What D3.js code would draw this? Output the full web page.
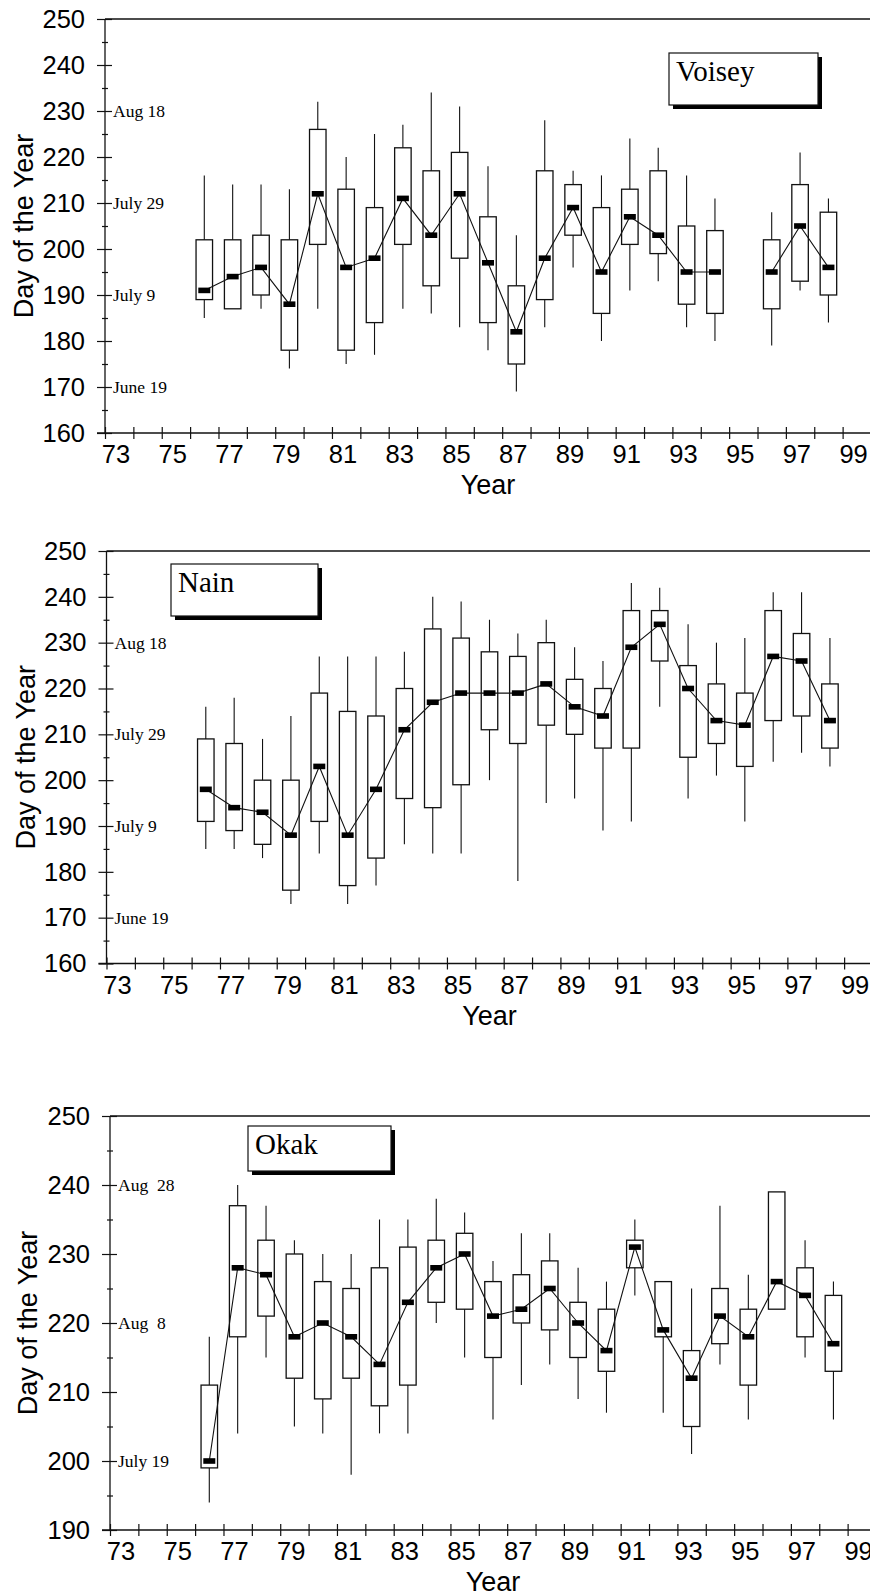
<!DOCTYPE html>
<html><head><meta charset="utf-8">
<script src="https://cdn.jsdelivr.net/npm/d3@7"></script>
<style>
body{margin:0;background:#fff}
svg{display:block}
.sans{font-family:"Liberation Sans",Arial,sans-serif}
.serif{font-family:"Liberation Serif","Times New Roman",serif}
</style>
</head><body>
<script>
// ---------------- DATA ----------------
const years = [76,77,78,79,80,81,82,83,84,85,86,87,88,89,90,91,92,93,94,95,96,97,98];
const yearTicks = d3.range(73, 100);

const voiseyMax = [216,214,214,213,232,220,225,227,234,231,218,203,228,217,216,224,222,216,211,null,208,221,211];
const voiseyQ3  = [202,202,203,202,226,213,209,222,217,221,207,192,217,214,209,213,217,205,204,null,202,214,208];
const voiseyMed = [191,194,196,188,212,196,198,211,203,212,197,182,198,209,195,207,203,195,195,null,195,205,196];
const voiseyQ1  = [189,187,190,178,201,178,184,201,192,198,184,175,189,203,186,201,199,188,186,null,187,193,190];
const voiseyMin = [185,187,187,174,187,175,177,187,186,183,178,169,183,196,180,191,193,183,180,null,179,191,184];

const nainMax = [216,218,209,214,227,227,227,228,240,239,235,232,235,229,226,243,242,234,230,231,241,241,231];
const nainQ3  = [209,208,200,200,219,215,214,220,233,231,228,227,230,222,220,237,237,225,221,219,237,232,221];
const nainMed = [198,194,193,188,203,188,198,211,217,219,219,219,221,216,214,229,234,220,213,212,227,226,213];
const nainQ1  = [191,189,186,176,191,177,183,196,194,199,211,208,212,210,207,207,226,205,208,203,213,214,207];
const nainMin = [185,185,183,173,184,173,177,186,184,184,200,178,195,196,189,191,216,196,201,191,204,206,203];

const okakMax = [218,240,237,232,230,230,235,235,238,236,229,233,233,228,226,235,226,225,237,227,239,232,226];
const okakQ3  = [211,237,232,230,226,225,228,231,232,233,226,227,229,223,222,232,226,216,225,222,239,228,224];
const okakMed = [200,228,227,218,220,218,214,223,228,230,221,222,225,220,216,231,219,212,221,218,226,224,217];
const okakQ1  = [199,218,221,212,209,212,208,211,223,222,215,220,219,215,213,228,218,205,217,211,222,218,213];
const okakMin = [194,204,215,205,204,198,204,204,220,215,206,211,214,209,207,224,207,201,214,206,222,215,206];

const voiseyDates = [[230,"Aug 18"],[210,"July 29"],[190,"July 9"],[170,"June 19"]];
const nainDates   = [[230,"Aug 18"],[210,"July 29"],[190,"July 9"],[170,"June 19"]];
const okakDates   = [[240,"Aug\u00a0\u00a028"],[220,"Aug\u00a0\u00a08"],[200,"July 19"]];

// ---------------- LAYOUT ----------------
const W = 870, H = 1595;
const svg = d3.select("body").append("svg").attr("width", W).attr("height", H);

const panels = [
  {name:"Voisey", min:voiseyMin, q1:voiseyQ1, med:voiseyMed, q3:voiseyQ3, max:voiseyMax,
   dates:voiseyDates, domain:[160,250], ax:105, top:19, bottom:433,
   box:{x:669, y:53, w:149, h:52}, titleX:33},
  {name:"Nain", min:nainMin, q1:nainQ1, med:nainMed, q3:nainQ3, max:nainMax,
   dates:nainDates, domain:[160,250], ax:106.5, top:551, bottom:963.5,
   box:{x:171, y:564, w:147, h:52}, titleX:35},
  {name:"Okak", min:okakMin, q1:okakQ1, med:okakMed, q3:okakQ3, max:okakMax,
   dates:okakDates, domain:[190,250], ax:110, top:1116, bottom:1530,
   box:{x:248, y:1126, w:143, h:45}, titleX:37}
];

const yearPx = 28.37;
const ink = "#111";

panels.forEach(p => {
  const g = svg.append("g");
  const x = d3.scaleLinear().domain([73, 99]).range([p.ax, p.ax + 26*yearPx]);
  const y = d3.scaleLinear().domain(p.domain).range([p.bottom, p.top]);

  const rows = years.map((yr, i) => ({yr, min:p.min[i], q1:p.q1[i], med:p.med[i], q3:p.q3[i], max:p.max[i]}));
  const present = rows.filter(d => d.med != null);

  // frame lines
  g.append("line").attr("x1", p.ax).attr("x2", W).attr("y1", p.top).attr("y2", p.top)
    .attr("stroke", ink).attr("stroke-width", 1.3);
  g.append("line").attr("x1", p.ax).attr("x2", p.ax).attr("y1", p.top).attr("y2", p.bottom)
    .attr("stroke", ink).attr("stroke-width", 1.3);
  g.append("line").attr("x1", p.ax - 8).attr("x2", W).attr("y1", p.bottom).attr("y2", p.bottom)
    .attr("stroke", ink).attr("stroke-width", 1.3);

  // y axis major ticks (crossing)
  const major = d3.range(p.domain[0], p.domain[1] + 1, 10);
  const minor = d3.range(p.domain[0] + 5, p.domain[1], 10);
  const yl = g.append("g").attr("transform", `translate(${p.ax},0)`)
    .call(d3.axisLeft(y).tickValues(major).tickSize(8).tickSizeOuter(0).tickPadding(12));
  const yr = g.append("g").attr("transform", `translate(${p.ax},0)`)
    .call(d3.axisRight(y).tickValues(major).tickSize(7).tickSizeOuter(0).tickFormat(""));
  const ym1 = g.append("g").attr("transform", `translate(${p.ax},0)`)
    .call(d3.axisLeft(y).tickValues(minor).tickSize(3).tickSizeOuter(0).tickFormat(""));
  const ym2 = g.append("g").attr("transform", `translate(${p.ax},0)`)
    .call(d3.axisRight(y).tickValues(minor).tickSize(3).tickSizeOuter(0).tickFormat(""));
  [yl, yr, ym1, ym2].forEach(a => {
    a.select(".domain").remove();
    a.selectAll("line").attr("stroke", ink).attr("stroke-width", 1.2);
  });
  yl.selectAll("text").attr("class", "sans").attr("font-size", 25.5).attr("fill", "#000")
    .attr("font-family", null);

  // x axis ticks (crossing)
  const xb = g.append("g").attr("transform", `translate(0,${p.bottom})`)
    .call(d3.axisBottom(x).tickValues(yearTicks).tickSize(6).tickSizeOuter(0).tickPadding(6)
      .tickFormat(d => d % 2 ? String(d) : ""));
  const xt = g.append("g").attr("transform", `translate(0,${p.bottom})`)
    .call(d3.axisTop(x).tickValues(yearTicks).tickSize(6).tickSizeOuter(0).tickFormat(""));
  [xb, xt].forEach(a => {
    a.select(".domain").remove();
    a.selectAll("line").attr("stroke", ink).attr("stroke-width", 1.2);
  });
  xb.selectAll("text").attr("class", "sans").attr("font-size", 25.5).attr("fill", "#000")
    .attr("font-family", null).attr("dx", 10.5);

  // axis titles
  g.append("text").attr("class", "sans").attr("font-size", 27)
    .attr("text-anchor", "middle")
    .attr("transform", `translate(${p.titleX},${(p.top + p.bottom) / 2}) rotate(-90)`)
    .text("Day of the Year");
  g.append("text").attr("class", "sans").attr("font-size", 27)
    .attr("text-anchor", "middle").attr("x", x(86.5)).attr("y", p.bottom + 61)
    .text("Year");

  // date annotations
  g.selectAll(".date").data(p.dates).join("text")
    .attr("class", "serif").attr("font-size", 17.5)
    .attr("x", p.ax + 8).attr("y", d => y(d[0])).attr("dy", "0.35em")
    .text(d => d[1]);

  // whiskers
  const bw = 16.5;
  g.selectAll(".wu").data(present).join("line")
    .attr("x1", d => x(d.yr + 0.5)).attr("x2", d => x(d.yr + 0.5))
    .attr("y1", d => y(d.max)).attr("y2", d => y(d.q3))
    .attr("stroke", ink).attr("stroke-width", 1.1);
  g.selectAll(".wl").data(present).join("line")
    .attr("x1", d => x(d.yr + 0.5)).attr("x2", d => x(d.yr + 0.5))
    .attr("y1", d => y(d.q1)).attr("y2", d => y(d.min))
    .attr("stroke", ink).attr("stroke-width", 1.1);
  // boxes
  g.selectAll(".bx").data(present).join("rect")
    .attr("x", d => x(d.yr + 0.5) - bw / 2).attr("width", bw)
    .attr("y", d => y(d.q3)).attr("height", d => Math.max(0.5, y(d.q1) - y(d.q3)))
    .attr("fill", "none").attr("stroke", ink).attr("stroke-width", 1.3);

  // median line (break at gaps)
  const line = d3.line().defined(d => d.med != null)
    .x(d => x(d.yr + 0.5)).y(d => y(d.med));
  g.append("path").datum(rows).attr("d", line)
    .attr("fill", "none").attr("stroke", ink).attr("stroke-width", 1.1);

  // median markers
  g.selectAll(".md").data(present).join("rect")
    .attr("x", d => x(d.yr + 0.5) - 6).attr("width", 12)
    .attr("y", d => y(d.med) - 2.8).attr("height", 5.6)
    .attr("fill", "#000");

  // site label box with shadow
  const b = p.box;
  g.append("rect").attr("x", b.x + 4).attr("y", b.y + 4).attr("width", b.w).attr("height", b.h)
    .attr("fill", "#000");
  g.append("rect").attr("x", b.x).attr("y", b.y).attr("width", b.w).attr("height", b.h)
    .attr("fill", "#fff").attr("stroke", ink).attr("stroke-width", 1.2);
  g.append("text").attr("class", "serif").attr("font-size", 29)
    .attr("x", b.x + 7).attr("y", b.y + 28).text(p.name);
});
</script>
</body></html>
